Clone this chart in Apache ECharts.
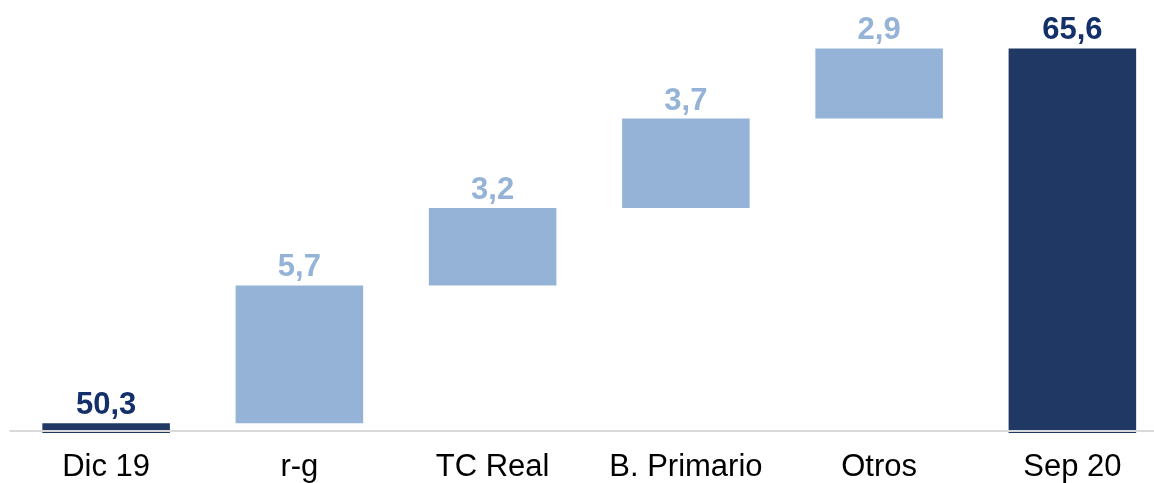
<!DOCTYPE html>
<html>
<head>
<meta charset="utf-8">
<script src="https://cdn.jsdelivr.net/npm/echarts@6/dist/echarts.min.js"></script>
<style>
html,body{margin:0;padding:0;background:#fff;overflow:hidden;width:1154px;height:483px;}
#c{width:1169px;height:483px;}
</style>
</head>
<body>
<div id="c"></div>
<script>
const categories = ['Dic 19', 'r-g', 'TC Real', 'B. Primario', 'Otros', 'Sep 20'];
const values = [50.3, 5.7, 3.2, 3.7, 2.9, 65.6];
const isTotal = [true, false, false, false, false, true];
const yMin = 49.9;
const yMax = 67.8;
const baseLine = 50;

const dark = '#203864';
const light = '#95b3d7';
const darkLabel = '#13306a';

// build waterfall helper/visible arrays
const helper = [];
const visible = [];
let running = 0;
values.forEach((v, i) => {
  if (i === 0) {
    helper.push(0); visible.push(v); running = v;
  } else if (isTotal[i]) {
    helper.push(0); visible.push(running);
  } else {
    helper.push(running); visible.push(v); running += v;
  }
});

const chart = echarts.init(document.getElementById('c'));
chart.setOption({
  animation: false,
  grid: { left: 9.5, right: 0, top: 0, bottom: 50, containLabel: false },
  xAxis: {
    type: 'category',
    data: categories,
    axisLine: { show: false },
    axisTick: { show: false },
    axisLabel: { interval: 0, color: '#000', fontSize: 31, fontFamily: 'Liberation Sans, Arial, sans-serif', margin: 19 }
  },
  yAxis: {
    type: 'value', min: yMin, max: yMax, show: false,
    splitLine: { show: false }
  },
  series: [
    {
      type: 'bar', stack: 'w', data: helper, barWidth: '66%',
      itemStyle: { color: 'transparent' }, silent: true
    },
    {
      type: 'bar', stack: 'w', barWidth: '66%', clip: true,
      data: visible.map((v, i) => ({
        value: v,
        itemStyle: { color: isTotal[i] ? dark : light },
        label: { color: isTotal[i] ? darkLabel : light }
      })),
      label: {
        show: true, position: 'top', distance: 2,
        fontSize: 31, fontWeight: 'bold', fontFamily: 'Liberation Sans, Arial, sans-serif',
        formatter: p => values[p.dataIndex].toFixed(1).replace('.', ',')
      },
      markLine: {
        silent: true, symbol: 'none', z: 10,
        label: { show: false },
        lineStyle: { color: '#d9d9d9', width: 2, type: 'solid' },
        data: [{ yAxis: baseLine }]
      }
    }
  ]
});
</script>
</body>
</html>
